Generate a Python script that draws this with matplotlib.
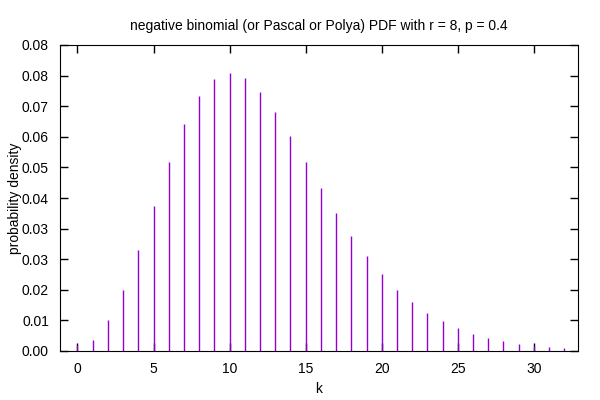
import matplotlib
matplotlib.use('Agg')
from matplotlib import pyplot as plt

plt.rcParams['font.family'] = ['Liberation Sans', 'DejaVu Sans']

# values
k = list(range(33))
pdf = [0.0017, 0.0031, 0.0085, 0.0170, 0.0280, 0.0404, 0.0525, 0.0630,
       0.0708, 0.0756, 0.0771, 0.0757, 0.0719, 0.0664, 0.0597, 0.0526,
       0.0453, 0.0384, 0.0320, 0.0263, 0.0213, 0.0170, 0.0135, 0.0105,
       0.0082, 0.0063, 0.0048, 0.0036, 0.0027, 0.0020, 0.0015, 0.0011,
       0.0008]

ytick_vals = [0.0085 * i for i in range(11)]
ytick_labels = ['0.00', '0.01', '0.02', '0.03', '0.03', '0.04', '0.05',
                '0.06', '0.07', '0.08', '0.08']
xtick_vals = [0, 5, 10, 15, 20, 25, 30]

fig = plt.figure(figsize=(6, 4), dpi=100)
ax = fig.add_axes([0.1, 0.1225, 0.8633, 0.765])

ax.vlines(k, 0, pdf, colors='#9400d3', linewidth=1.0)

ax.set_xlim(-1.15, 32.9)
ax.set_ylim(0, 0.085)
ax.set_xticks(xtick_vals)
ax.set_yticks(ytick_vals)
ax.set_yticklabels(ytick_labels)
ax.tick_params(axis='both', direction='in', top=True, right=True,
               length=6, width=1, labelsize=10, pad=8)

ax.set_title("negative binomial (or Pascal or Polya) PDF with r = 8, p = 0.4",
             fontsize=10, pad=11)
ax.set_xlabel('k', fontsize=10)
ax.set_ylabel('probability density', fontsize=10)
ax.yaxis.set_label_coords(-0.073, 0.5)

plt.savefig('out.png', dpi=100)
